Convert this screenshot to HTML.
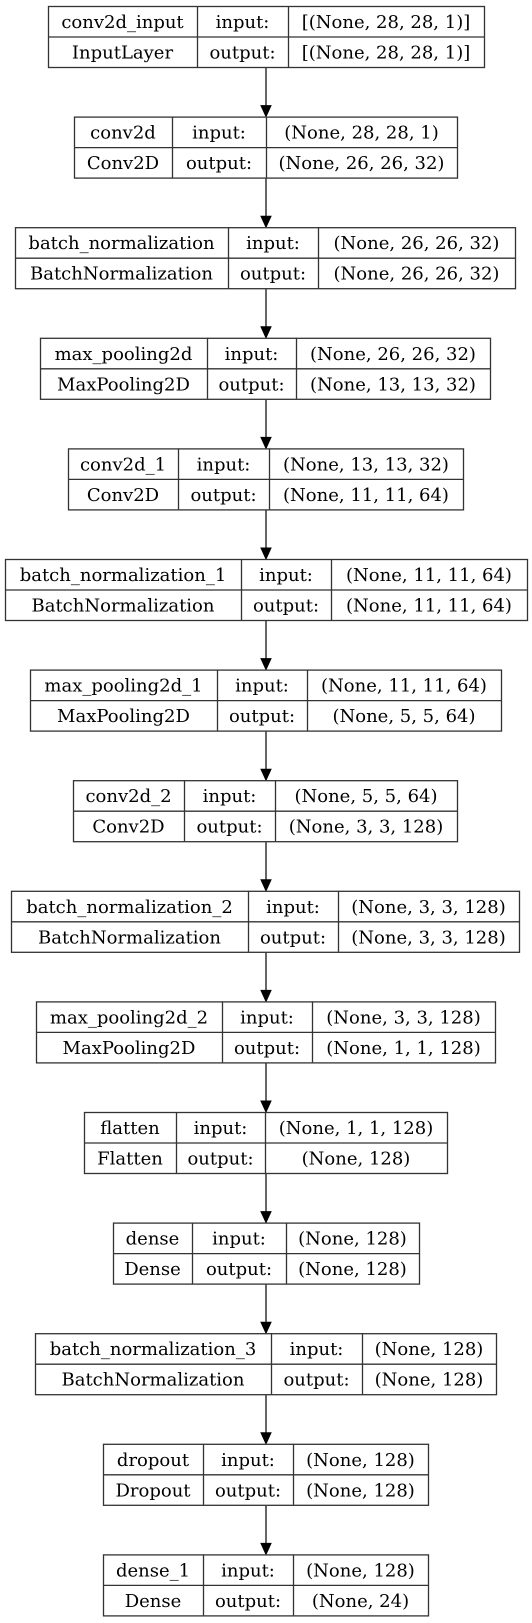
<!DOCTYPE html>
<html><head><meta charset="utf-8"><style>
html,body{margin:0;padding:0;background:#fff;}
svg{display:block}
text{font-family:"DejaVu Serif","Liberation Serif",serif;font-size:18px;fill:#000;}
</style></head><body>
<svg id="g" width="532" height="1623" viewBox="0 0 532 1623" xmlns="http://www.w3.org/2000/svg"></svg>
<script>
const names=["conv2d_input","conv2d","batch_normalization","max_pooling2d","conv2d_1","batch_normalization_1","max_pooling2d_1","conv2d_2","batch_normalization_2","max_pooling2d_2","flatten","dense","batch_normalization_3","dropout","dense_1"];
const types=["InputLayer","Conv2D","BatchNormalization","MaxPooling2D","Conv2D","BatchNormalization","MaxPooling2D","Conv2D","BatchNormalization","MaxPooling2D","Flatten","Dense","BatchNormalization","Dropout","Dense"];
const inputs=["[(None, 28, 28, 1)]","(None, 28, 28, 1)","(None, 26, 26, 32)","(None, 26, 26, 32)","(None, 13, 13, 32)","(None, 11, 11, 64)","(None, 11, 11, 64)","(None, 5, 5, 64)","(None, 3, 3, 128)","(None, 3, 3, 128)","(None, 1, 1, 128)","(None, 128)","(None, 128)","(None, 128)","(None, 128)"];
const outputs=["[(None, 28, 28, 1)]","(None, 26, 26, 32)","(None, 26, 26, 32)","(None, 13, 13, 32)","(None, 11, 11, 64)","(None, 11, 11, 64)","(None, 5, 5, 64)","(None, 3, 3, 128)","(None, 3, 3, 128)","(None, 1, 1, 128)","(None, 128)","(None, 128)","(None, 128)","(None, 128)","(None, 24)"];
const geo=[[48,197,288,484],[74,172,266,457],[15,228,318,515],[40,207,296,490],[68,178,269,463],[5,241,331,527],[30,217,307,501],[73,184,275,457],[11,248,338,519],[36,222,312,495],[84,176,265,447],[113,192,286,419],[35,271,362,496],[103,203,293,428],[103,203,293,428]];
const svg=document.getElementById('g');
const NS="http://www.w3.org/2000/svg";
function mk(t,a){const e=document.createElementNS(NS,t);for(const k in a)e.setAttribute(k,a[k]);svg.appendChild(e);return e;}
const top0=6,pitch=110.6,h=61,cx=266;
for(let i=0;i<names.length;i++){
  const y=top0+i*pitch,[l,c1,c2,r]=geo[i];
  const g=mk('rect',{x:l+.5,y:y+.5,width:r-l,height:h,fill:'#fff',stroke:'#333','stroke-width':1.3});
  
  
  mk('line',{x1:l,y1:y+h/2+.5,x2:r,y2:y+h/2+.5,stroke:'#333','stroke-width':1.3});
  mk('line',{x1:c1+.5,y1:y,x2:c1+.5,y2:y+h,stroke:'#333','stroke-width':1.3});
  mk('line',{x1:c2+.5,y1:y,x2:c2+.5,y2:y+h,stroke:'#333','stroke-width':1.3});
  const cells=[[names[i],(l+c1)/2,0],["input:",(c1+c2)/2,0],[inputs[i],(c2+r)/2,0],[types[i],(l+c1)/2,1],["output:",(c1+c2)/2,1],[outputs[i],(c2+r)/2,1]];
  cells.forEach(([s,x,row],j)=>{
    const t=mk('text',{x:x,y:y+row*30.5+22,'text-anchor':'middle'});
    t.textContent=s;
    
    
  });
  if(i<names.length-1){
    const y1=y+h+1,y2=top0+(i+1)*pitch;
    const ln=mk('line',{x1:cx,y1:y1,x2:cx,y2:y2-10,stroke:'#333','stroke-width':1.5});
    
    
    mk('polygon',{points:`${cx-5},${y2-11} ${cx+5},${y2-11} ${cx},${y2}`,fill:'#000',stroke:'#000'});
  }
}
</script>
</body></html>
